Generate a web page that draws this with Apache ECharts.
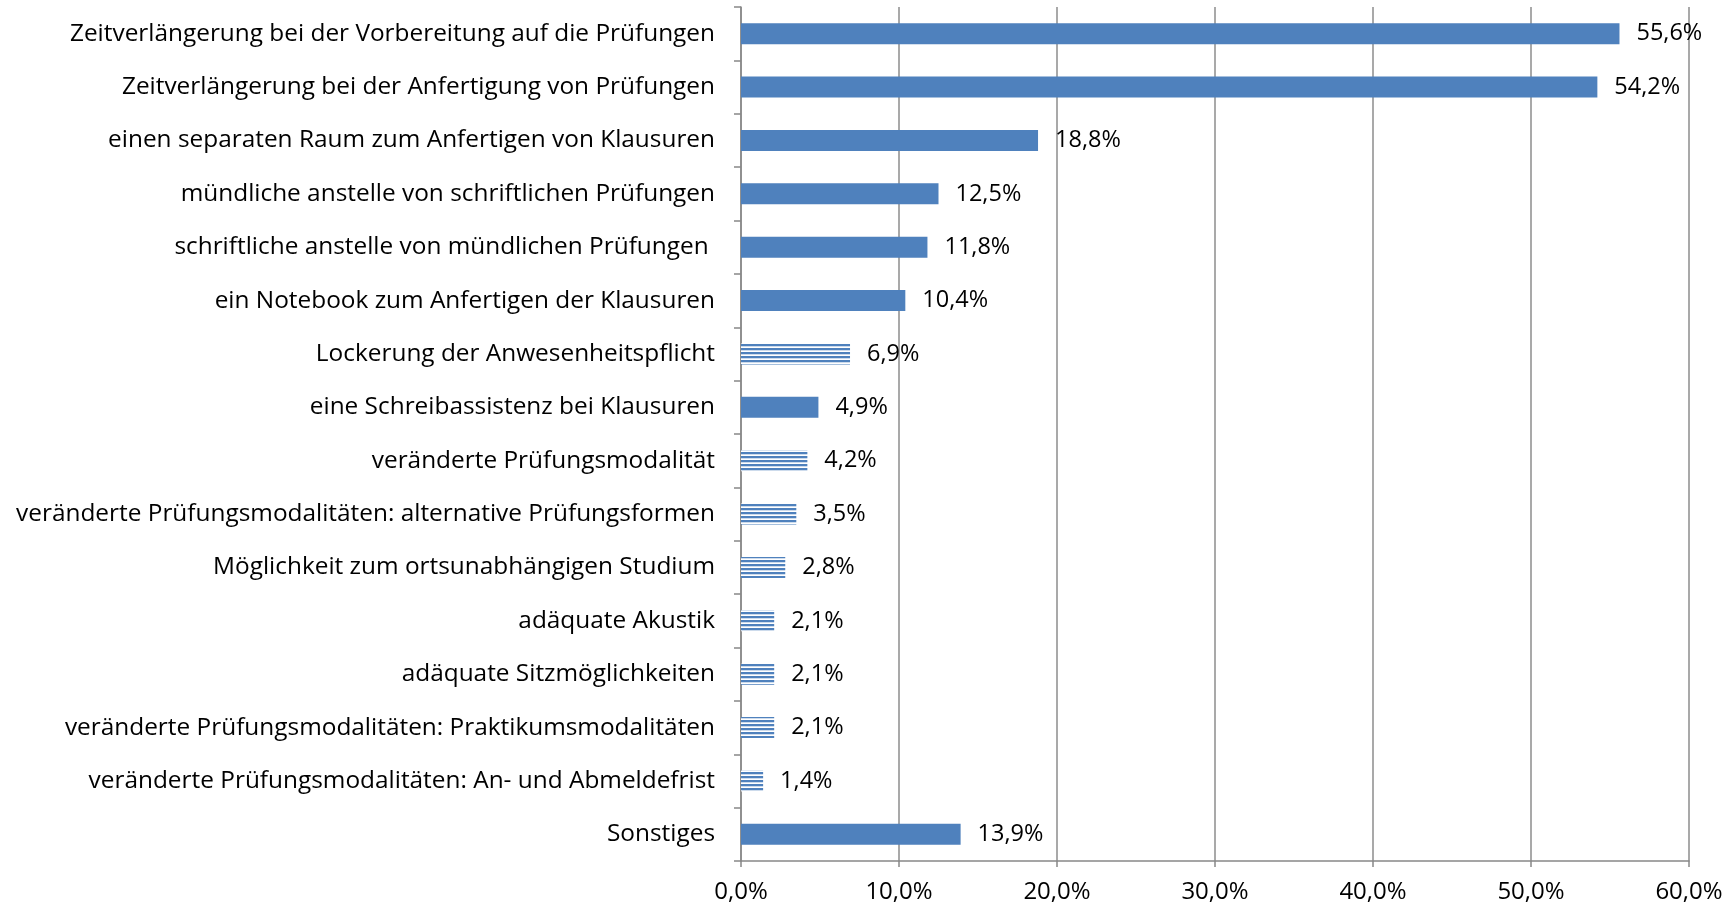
<!DOCTYPE html>
<html><head><meta charset="utf-8">
<script src="https://cdn.jsdelivr.net/npm/echarts@6/dist/echarts.min.js"></script>
<style>html,body{margin:0;padding:0;background:#fff}#c{width:1735px;height:909px}</style>
</head><body><div id="c"></div>
<script>
const categories = [
  "Zeitverlängerung bei der Vorbereitung auf die Prüfungen",
  "Zeitverlängerung bei der Anfertigung von Prüfungen",
  "einen separaten Raum zum Anfertigen von Klausuren",
  "mündliche anstelle von schriftlichen Prüfungen",
  "schriftliche anstelle von mündlichen Prüfungen ",
  "ein Notebook zum Anfertigen der Klausuren",
  "Lockerung der Anwesenheitspflicht",
  "eine Schreibassistenz bei Klausuren",
  "veränderte Prüfungsmodalität",
  "veränderte Prüfungsmodalitäten: alternative Prüfungsformen",
  "Möglichkeit zum ortsunabhängigen Studium",
  "adäquate Akustik",
  "adäquate Sitzmöglichkeiten",
  "veränderte Prüfungsmodalitäten: Praktikumsmodalitäten",
  "veränderte Prüfungsmodalitäten: An- und Abmeldefrist",
  "Sonstiges"
];
const values = [55.6, 54.2, 18.8, 12.5, 11.8, 10.4, 6.9, 4.9, 4.2, 3.5, 2.8, 2.1, 2.1, 2.1, 1.4, 13.9];
const striped = [false, false, false, false, false, false, true, false, true, true, true, true, true, true, true, false];
const xTicks = [0, 10, 20, 30, 40, 50, 60];

const BLUE = '#4F81BD';
const pc = document.createElement('canvas');
pc.width = 8; pc.height = 4;
const g = pc.getContext('2d');
g.fillStyle = '#ffffff'; g.fillRect(0, 0, 8, 4);
g.fillStyle = BLUE; g.fillRect(0, 0, 8, 2);
g.fillStyle = '#b8cce4'; g.fillRect(0, 2, 8, 0.7);

const FONT = 'Open Sans';
const chart = echarts.init(document.getElementById('c'), null, {renderer: 'canvas'});
const fmt = v => v.toFixed(1).replace('.', ',') + '%';
chart.setOption({
  animation: false,
  grid: {left: 741, right: 46, top: 7, bottom: 48, containLabel: false},
  xAxis: {
    type: 'value', min: xTicks[0], max: xTicks[xTicks.length - 1], interval: 10,
    axisLine: {show: true, lineStyle: {color: '#888', width: 1.5}},
    axisTick: {show: true, length: 6, lineStyle: {color: '#888', width: 1.5}},
    splitLine: {show: true, lineStyle: {color: '#8c8c8c', width: 1.5}},
    axisLabel: {formatter: v => fmt(v), color: '#000', fontFamily: FONT, fontSize: 24, margin: 19}
  },
  yAxis: {
    type: 'category', data: categories, inverse: true,
    axisLine: {show: true, lineStyle: {color: '#888', width: 1.5}},
    axisTick: {show: true, length: 7, lineStyle: {color: '#888', width: 1.5}},
    axisLabel: {color: '#000', fontFamily: FONT, fontSize: 24.4, margin: 26}
  },
  series: [{
    type: 'bar', barWidth: 21,
    data: values.map((v, i) => ({
      value: v,
      itemStyle: {color: striped[i] ? {image: pc, repeat: 'repeat'} : BLUE}
    })),
    label: {show: true, position: 'right', distance: 17, formatter: p => fmt(p.value),
      color: '#000', fontFamily: FONT, fontSize: 23.5}
  }]
});
</script></body></html>
